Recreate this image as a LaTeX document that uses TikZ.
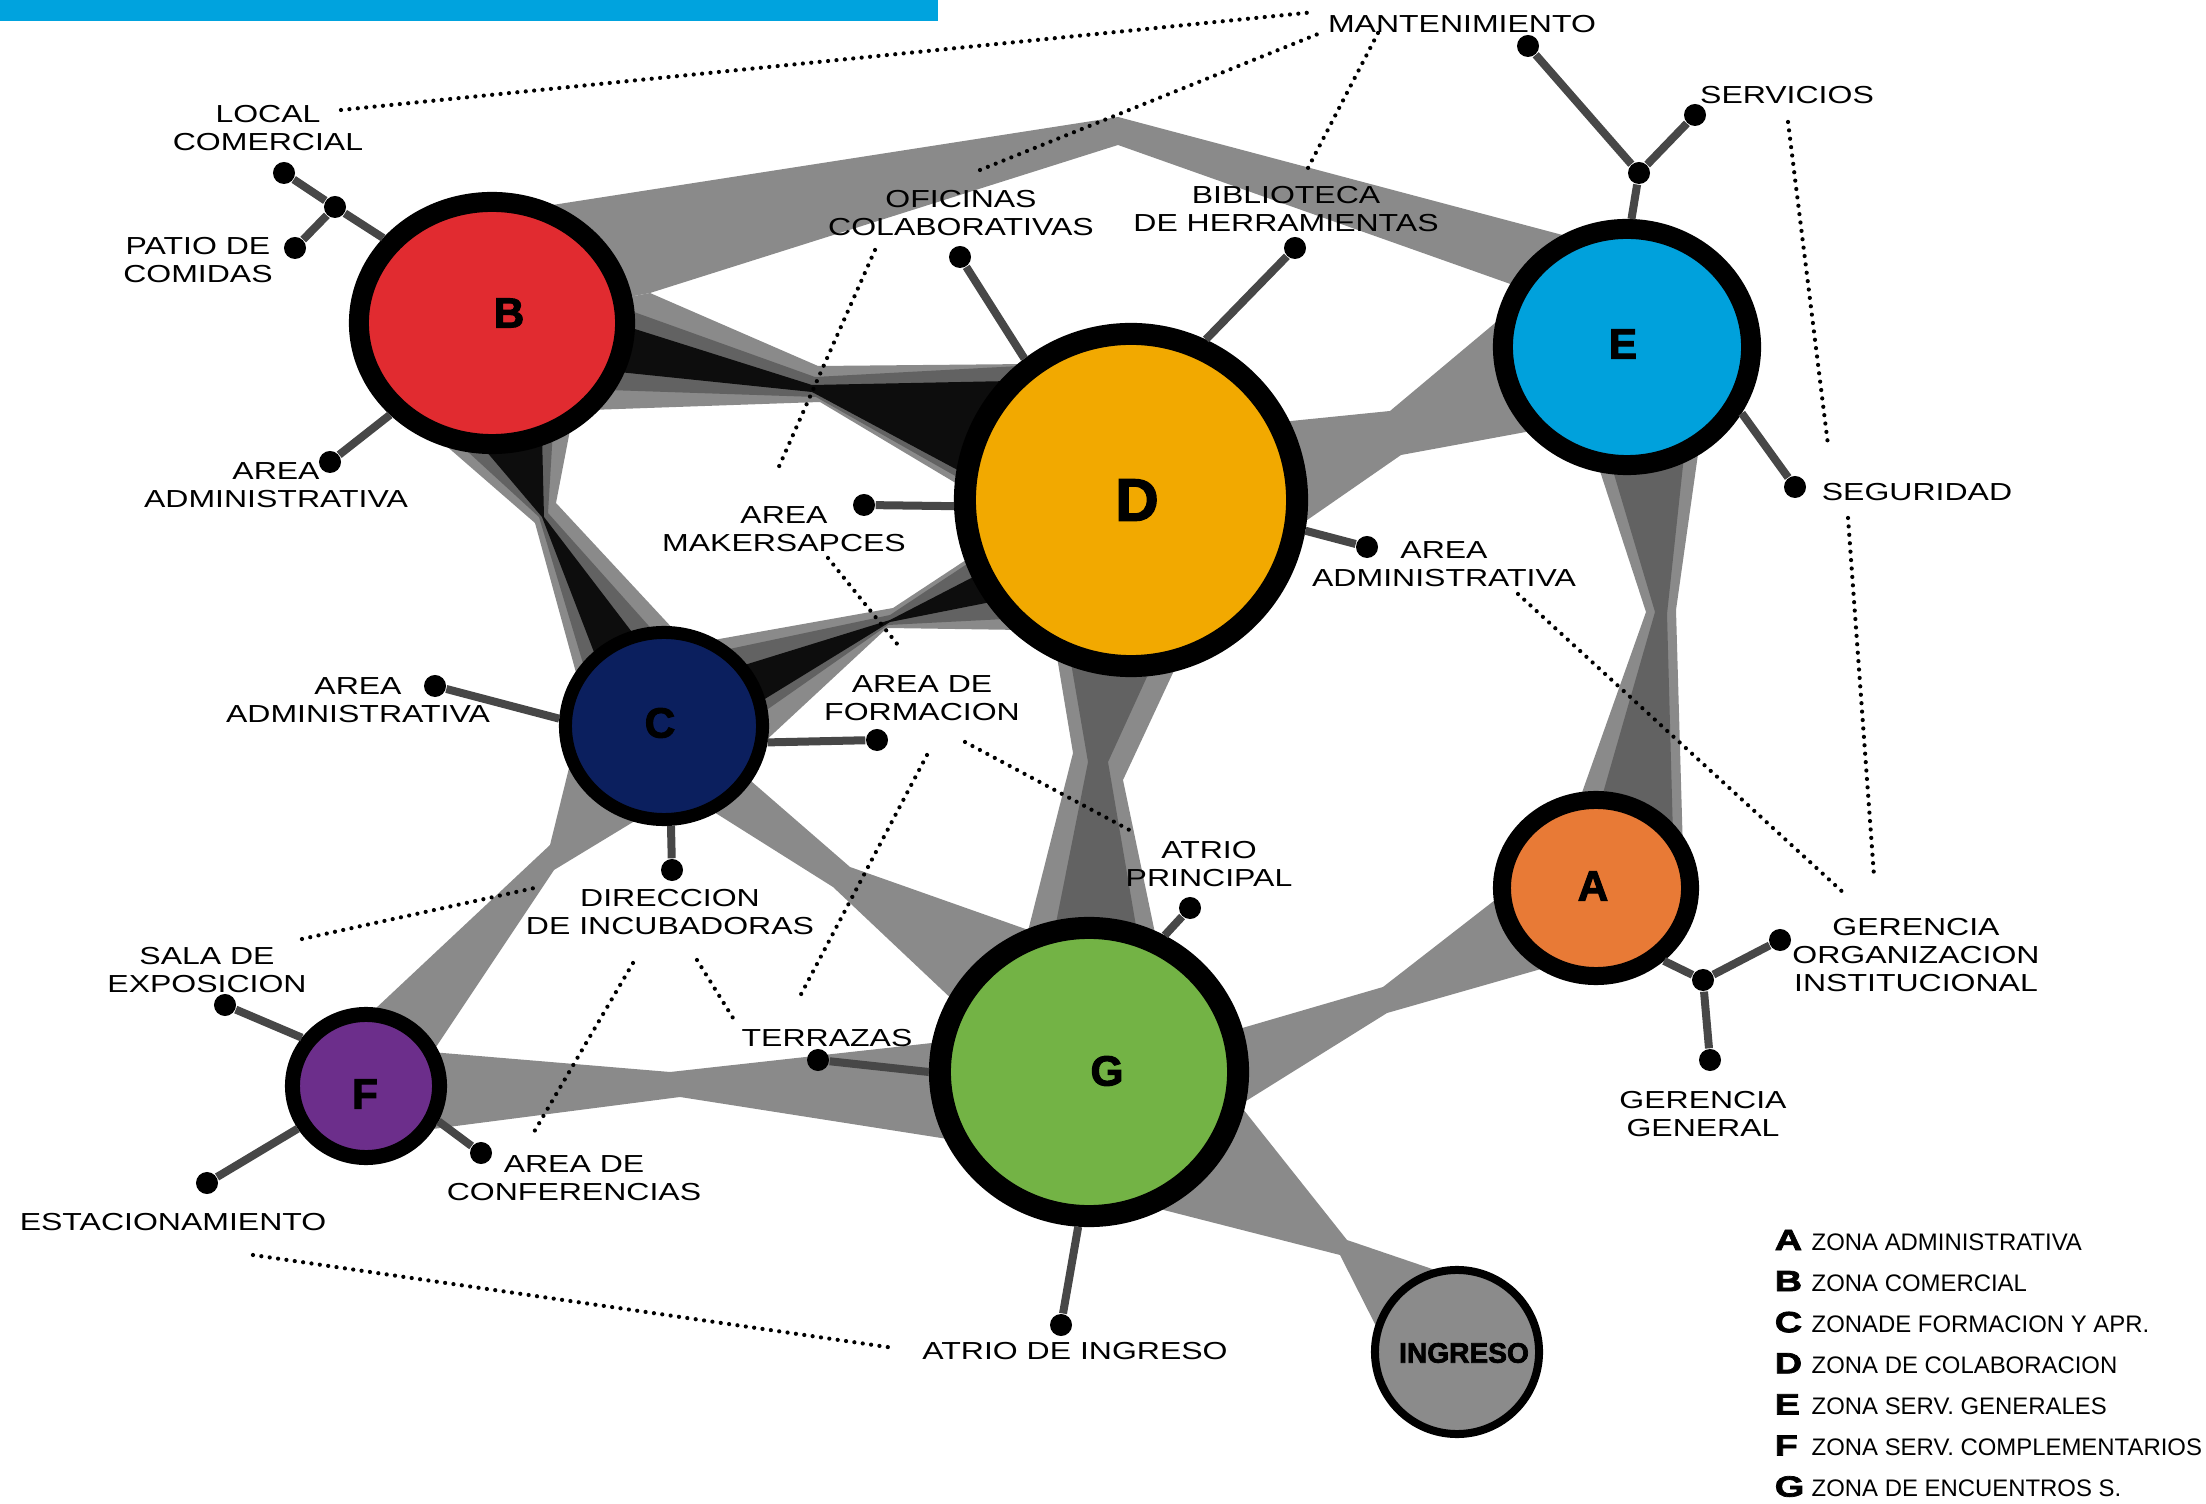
\documentclass[tikz,border=0pt]{standalone}
\usepackage{fontspec}
\usepackage{tikz}
\usetikzlibrary{shapes.geometric}
\setmainfont{Liberation Sans}
\newfontfamily\lblfont{Liberation Sans}[FakeStretch=1.3]
\newfontfamily\keyfont{Liberation Sans}[FakeStretch=1.0]
\newfontfamily\keyletfont{Liberation Sans Bold}[FakeStretch=1.3,FakeBold=2.5]
\newfontfamily\zonefont{Liberation Sans Bold}[FakeBold=2.5]
\definecolor{zA}{HTML}{E87A36}
\definecolor{zB}{HTML}{E12B30}
\definecolor{zC}{HTML}{0B1F5E}
\definecolor{zD}{HTML}{F2A900}
\definecolor{zE}{HTML}{00A1DC}
\definecolor{zF}{HTML}{6C2E8B}
\definecolor{zG}{HTML}{73B345}
\definecolor{zI}{HTML}{8B8B8B}
\definecolor{bandlite}{HTML}{8A8A8A}
\definecolor{banddark}{HTML}{626262}
\definecolor{bandblk}{HTML}{0D0D0D}
\definecolor{stubgray}{HTML}{474747}
\definecolor{topbar}{HTML}{00A3DE}
\pgfdeclarelayer{bands}
\pgfsetlayers{bands,main}

\begin{document}
\begin{tikzpicture}[x=0.01cm,y=-0.01cm,
  zone/.style={shape=ellipse,draw=black,inner sep=0pt},
  zlet/.style={font=\zonefont\fontsize{12}{14}\selectfont,inner sep=0pt},
  lbl/.style={font=\lblfont\fontsize{7}{8}\selectfont,align=center,inner sep=0pt},
  stub/.style={draw=stubgray,line width=0.08cm},
  stubdot/.style={circle,fill=black,inner sep=0pt,minimum size=0.22cm},
  lite/.style={fill=bandlite},
  dark/.style={fill=banddark},
  blk/.style={fill=bandblk},
  dotlink/.style={line width=1.2pt,dash pattern=on 0pt off 2.4pt,line cap=round},
  keylet/.style={font=\keyletfont\fontsize{8.3}{10}\selectfont,inner sep=0pt,anchor=base west},
  keytxt/.style={font=\keyfont\fontsize{6.8}{8}\selectfont,inner sep=0pt,anchor=base west}]
\useasboundingbox (0,0) rectangle (2206,1504);
\fill[topbar] (0,0) rectangle (938,21);

\node[zone,fill=zB,line width=0.2cm,minimum width=2.66cm,minimum height=2.42cm] (B) at (492,323) {};
\node[zone,fill=zD,line width=0.22cm,minimum width=3.32cm,minimum height=3.32cm] (D) at (1131,500) {};
\node[zone,fill=zE,line width=0.2cm,minimum width=2.48cm,minimum height=2.36cm] (E) at (1627,347) {};
\node[zone,fill=zC,line width=0.13cm,minimum width=1.97cm,minimum height=1.87cm] (C) at (664,726) {};
\node[zone,fill=zA,line width=0.18cm,minimum width=1.88cm,minimum height=1.76cm] (A) at (1596,888) {};
\node[zone,fill=zF,line width=0.15cm,minimum width=1.47cm,minimum height=1.43cm] (F) at (366,1086) {};
\node[zone,fill=zG,line width=0.22cm,minimum width=2.98cm,minimum height=2.88cm] (G) at (1089,1072) {};
\node[zone,fill=zI,line width=0.08cm,minimum width=1.64cm,minimum height=1.64cm] (I) at (1457,1352) {};

\node[zlet] (tB) at (509,313) {B};
\node[zlet,font=\zonefont\fontsize{17}{19}\selectfont] (tD) at (1137,500) {D};
\node[zlet] (tE) at (1623,344) {E};
\node[zlet] (tC) at (660,723) {C};
\node[zlet] (tA) at (1593,886) {A};
\node[zlet] (tF) at (365,1094) {F};
\node[zlet] (tG) at (1107,1071) {G};
\node[zlet,font=\zonefont\fontsize{8}{10}\selectfont] (tI) at (1464,1353) {INGRESO};

\begin{pgfonlayer}{bands}
\fill[lite] (B.center) -- (546,206) -- (1118,117) -- (1570,237) -- (E.center) -- (1516,286) -- (1118,145) -- (650,293) -- cycle;
\fill[lite] (B.center) -- (650,293) -- (818,366) -- (1030,364) -- (D.center) -- (969,491) -- (820,402) -- (590,410) -- cycle;
\fill[dark] (B.center) -- (620,307) -- (815,377) -- (1020,366) -- (D.center) -- (973,486) -- (816,397) -- (608,390) -- cycle;
\fill[blk] (B.center) -- (619,324) -- (812,385) -- (1011,381) -- (D.center) -- (980,482) -- (812,392) -- (609,371) -- cycle;
\fill[lite] (B.center) -- (436,437) -- (535,523) -- (578,680) -- (C.center) -- (675,631) -- (556,503) -- (571,425) -- cycle;
\fill[dark] (B.center) -- (455,440) -- (539,517) -- (585,670) -- (C.center) -- (656,634) -- (548,513) -- (553,430) -- cycle;
\fill[blk] (B.center) -- (480,444) -- (542,517) -- (597,660) -- (C.center) -- (638,640) -- (544,517) -- (542,435) -- cycle;
\fill[lite] (C.center) -- (708,641) -- (893,608) -- (972,556) -- (D.center) -- (1022,630) -- (887,628) -- (761,745) -- cycle;
\fill[dark] (C.center) -- (720,651) -- (890,615) -- (970,562) -- (D.center) -- (1005,619) -- (888,625) -- (758,716) -- cycle;
\fill[blk] (C.center) -- (738,667) -- (890,620) -- (979,574) -- (D.center) -- (996,601) -- (890,622) -- (755,705) -- cycle;
\fill[lite] (D.center) -- (1281,422) -- (1390,411) -- (1507,313) -- (E.center) -- (1542,429) -- (1401,455) -- (1300,525) -- cycle;
\fill[lite] (E.center) -- (1597,462) -- (1646,612) -- (1579,801) -- (A.center) -- (1683,852) -- (1676,610) -- (1699,447) -- cycle;
\fill[dark] (E.center) -- (1611,464) -- (1655,612) -- (1601,800) -- (A.center) -- (1673,836) -- (1667,614) -- (1684,456) -- cycle;
\fill[lite] (D.center) -- (1056,651) -- (1073,753) -- (1027,935) -- (G.center) -- (1156,938) -- (1123,780) -- (1178,662) -- cycle;
\fill[dark] (D.center) -- (1070,657) -- (1088,762) -- (1055,928) -- (G.center) -- (1137,932) -- (1108,762) -- (1151,668) -- cycle;
\fill[lite] (C.center) -- (744,775) -- (850,867) -- (1034,932) -- (G.center) -- (957,1004) -- (833,887) -- (706,807) -- cycle;
\fill[lite] (C.center) -- (643,816) -- (554,870) -- (434,1050) -- (F.center) -- (374,1010) -- (550,845) -- (570,764) -- cycle;
\fill[lite] (F.center) -- (431,1052) -- (670,1072) -- (941,1042) -- (G.center) -- (954,1140) -- (680,1097) -- (425,1130) -- cycle;
\fill[lite] (G.center) -- (1232,1031) -- (1383,987) -- (1504,893) -- (A.center) -- (1548,967) -- (1387,1013) -- (1238,1106) -- cycle;
\fill[lite] (G.center) -- (1239,1104) -- (1347,1240) -- (1441,1272) -- (I.center) -- (1380,1334) -- (1340,1255) -- (1152,1207) -- cycle;
\end{pgfonlayer}

\node[stubdot] (jB) at (335,207) {};
\node[stubdot] (dLoc) at (284,173) {};
\node[stubdot] (dPat) at (295,248) {};
\node[stubdot] (dAdmB) at (330,462) {};
\node[stubdot] (dOfi) at (960,257) {};
\node[stubdot] (dBib) at (1295,248) {};
\node[stubdot] (dMak) at (864,505) {};
\node[stubdot] (dAdmD) at (1367,547) {};
\node[stubdot] (jE) at (1639,173) {};
\node[stubdot] (dMan) at (1528,46) {};
\node[stubdot] (dSer) at (1695,115) {};
\node[stubdot] (dSeg) at (1795,487) {};
\node[stubdot] (dAdmC) at (435,686) {};
\node[stubdot] (dFor) at (877,740) {};
\node[stubdot] (dDir) at (672,870) {};
\node[stubdot] (dAtP) at (1190,908) {};
\node[stubdot] (dTer) at (818,1060) {};
\node[stubdot] (dAtI) at (1061,1325) {};
\node[stubdot] (dSal) at (225,1005) {};
\node[stubdot] (dEst) at (207,1183) {};
\node[stubdot] (dCon) at (481,1153) {};
\node[stubdot] (jA) at (1703,980) {};
\node[stubdot] (dGOI) at (1780,940) {};
\node[stubdot] (dGG) at (1710,1060) {};

\foreach \z/\a/\d in {B/142/jB,B/222/dAdmB,D/127/dOfi,D/65/dBib,D/182/dMak,D/350/dAdmD,
  E/88/jE,E/330/dSeg,C/176/dAdmC,C/351/dFor,C/274/dDir,G/61/dAtP,G/180/dTer,G/266/dAtI,
  F/143/dSal,F/212/dEst,F/334/dCon,A/313/jA}
  \draw[stub] (\z.\a) -- (\d);
\draw[stub] (jB) -- (dLoc);
\draw[stub] (jB) -- (dPat);
\draw[stub] (jE) -- (dMan);
\draw[stub] (jE) -- (dSer);
\draw[stub] (jA) -- (dGOI);
\draw[stub] (jA) -- (dGG);

\node[lbl] (mant) at (1462,24) {MANTENIMIENTO};
\node[lbl] (lcom) at (268,128) {LOCAL\\COMERCIAL};
\node[lbl] (patio) at (198,260) {PATIO DE\\COMIDAS};
\node[lbl] (admB) at (276,485) {AREA\\ADMINISTRATIVA};
\node[lbl] (ofic) at (961,213) {OFICINAS\\COLABORATIVAS};
\node[lbl] (bibl) at (1286,209) {BIBLIOTECA\\DE HERRAMIENTAS};
\node[lbl] (serv) at (1787,95) {SERVICIOS};
\node[lbl] (segu) at (1917,492) {SEGURIDAD};
\node[lbl] (admD) at (1444,564) {AREA\\ADMINISTRATIVA};
\node[lbl] (maker) at (784,529) {AREA\\MAKERSAPCES};
\node[lbl] (admC) at (358,700) {AREA\\ADMINISTRATIVA};
\node[lbl] (form) at (922,698) {AREA DE\\FORMACION};
\node[lbl] (direc) at (670,912) {DIRECCION\\DE INCUBADORAS};
\node[lbl] (atrioP) at (1209,864) {ATRIO\\PRINCIPAL};
\node[lbl] (sala) at (207,970) {SALA DE\\EXPOSICION};
\node[lbl] (terr) at (827,1038) {TERRAZAS};
\node[lbl] (estac) at (173,1222) {ESTACIONAMIENTO};
\node[lbl] (conf) at (574,1178) {AREA DE\\CONFERENCIAS};
\node[lbl] (atrioI) at (1075,1351) {ATRIO DE INGRESO};
\node[lbl] (gerOI) at (1916,955) {GERENCIA\\ORGANIZACION\\INSTITUCIONAL};
\node[lbl] (gerG) at (1703,1114) {GERENCIA\\GENERAL};

\foreach \n/\p/\q in {1/{341,110}/{1315,12},2/{980,170}/{1318,34},3/{1378,33}/{1308,168},
  4/{1788,122}/{1828,445},5/{1848,518}/{1874,876},6/{1518,594}/{1847,896},
  7/{875,250}/{777,471},8/{828,558}/{902,650},9/{965,742}/{1135,833},
  10/{927,755}/{798,1000},11/{697,960}/{733,1018},12/{633,963}/{534,1132},
  13/{302,939}/{539,887},14/{253,1255}/{894,1348}}{
  \coordinate (dl\n a) at (\p);
  \coordinate (dl\n b) at (\q);
  \draw[dotlink] (dl\n a) -- (dl\n b);}

\foreach \k/\t [count=\i from 0] in {A/ZONA ADMINISTRATIVA,B/ZONA COMERCIAL,C/ZONADE FORMACION Y APR.,
  D/ZONA DE COLABORACION,E/ZONA SERV. GENERALES,F/ZONA SERV. COMPLEMENTARIOS,G/ZONA DE ENCUENTROS S.}{
  \node[keylet] (key\k) at (1774,{1250+41.1*\i}) {\k};
  \node[keytxt] (keyt\k) at (1811,{1250+41.1*\i}) {\t};}
\end{tikzpicture}
\end{document}
